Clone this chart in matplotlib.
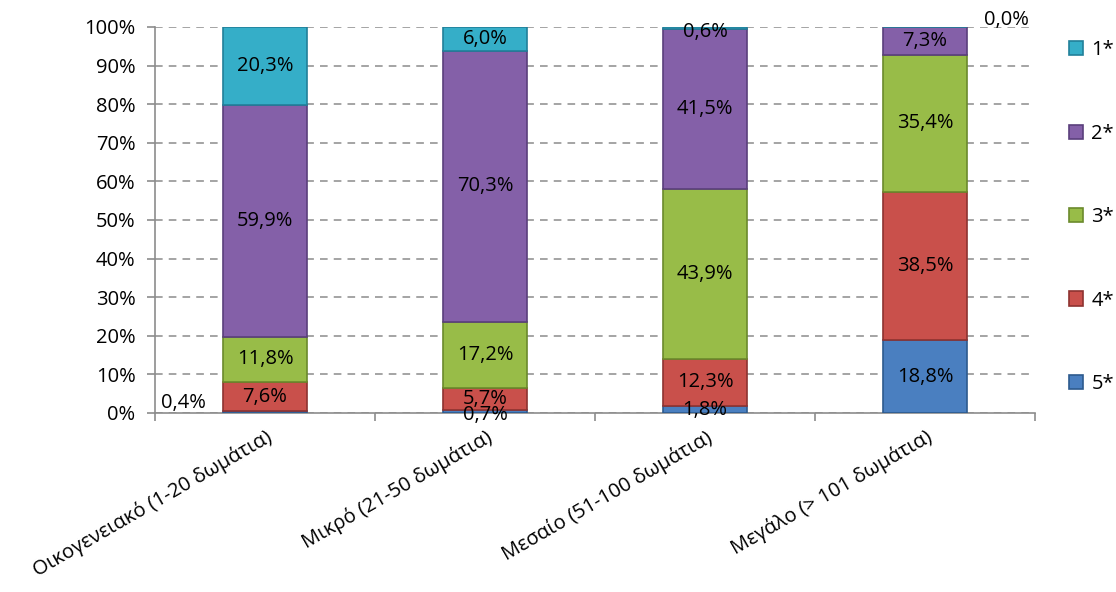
import numpy as np
import matplotlib.pyplot as plt

plt.rcParams['font.family'] = ['Open Sans', 'DejaVu Sans']

categories = ["Οικογενειακό (1-20 δωμάτια)", "Μικρό (21-50 δωμάτια)",
              "Μεσαίο (51-100 δωμάτια)", "Μεγάλο (> 101 δωμάτια)"]
series = ["5*", "4*", "3*", "2*", "1*"]
five = [0.4, 0.7, 1.8, 18.8]
four = [7.6, 5.7, 12.3, 38.5]
three = [11.8, 17.2, 43.9, 35.4]
two = [59.9, 70.3, 41.5, 7.3]
one = [20.3, 6.0, 0.6, 0.0]

colors = ["#4a7fc0", "#c9504b", "#98bc48", "#8460a8", "#35aec8"]
edges = ["#2d5a8e", "#8e3230", "#6b8a2c", "#5a3f7c", "#21809a"]
fs = 14.5

# label nudges (in data units) for the tiny segments
nudge = {(0, 0): (-0.37, 2.4), (3, 4): (0.37, 1.9), (1, 0): (0, -1.0),
         (2, 4): (0, -1.0)}

fig = plt.figure(figsize=(11.16, 5.92), dpi=100)
ax = fig.add_axes([0.1389, 0.3024, 0.7885, 0.652])

x = np.arange(len(categories))
bottom = np.zeros(len(categories))
handles = []
for i, vals in enumerate([five, four, three, two, one]):
    vals = np.array(vals)
    b = ax.bar(x, vals, 0.386, bottom=bottom, color=colors[i],
               edgecolor=edges[i], linewidth=1.2, zorder=3, label=series[i])
    handles.append(b)
    for j, v in enumerate(vals):
        dx, dy = nudge.get((j, i), (0, 0))
        ax.text(x[j] + dx, bottom[j] + v / 2 + dy, f"{v:.1f}%".replace(".", ","),
                ha="center", va="center", fontsize=fs, zorder=5)
    bottom += vals

ax.set_xlim(-0.5, 3.5)
ax.set_ylim(0, 100)
ax.set_yticks(np.arange(0, 101, 10))
ax.set_yticklabels([f"{t}%" for t in range(0, 101, 10)], fontsize=fs)
ax.yaxis.grid(True, linestyle=(0, (5, 4)), color="#8c8c8c", linewidth=1.1, zorder=0)
ax.set_xticks(x)
ax.set_xticklabels(categories, rotation=30, ha="right", rotation_mode="anchor",
                   fontsize=fs)
ax.set_xticks(np.arange(-0.5, 3.6, 1), minor=True)
ax.tick_params(axis="x", which="major", length=0, pad=10)
ax.tick_params(axis="x", which="minor", length=6, color="#8c8c8c", width=1.2)
ax.tick_params(axis="y", length=6, color="#8c8c8c", width=1.2, pad=8)
for s in ["top", "right"]:
    ax.spines[s].set_visible(False)
for s in ["left", "bottom"]:
    ax.spines[s].set_color("#8c8c8c")
    ax.spines[s].set_linewidth(1.2)

fig.legend(handles[::-1], series[::-1], loc="upper left",
           bbox_to_anchor=(0.958, 0.932), frameon=False, fontsize=fs,
           handlelength=0.7, handleheight=0.7, handletextpad=0.4,
           labelspacing=3.15, borderpad=0, borderaxespad=0)

fig.savefig("out.png", dpi=100)
